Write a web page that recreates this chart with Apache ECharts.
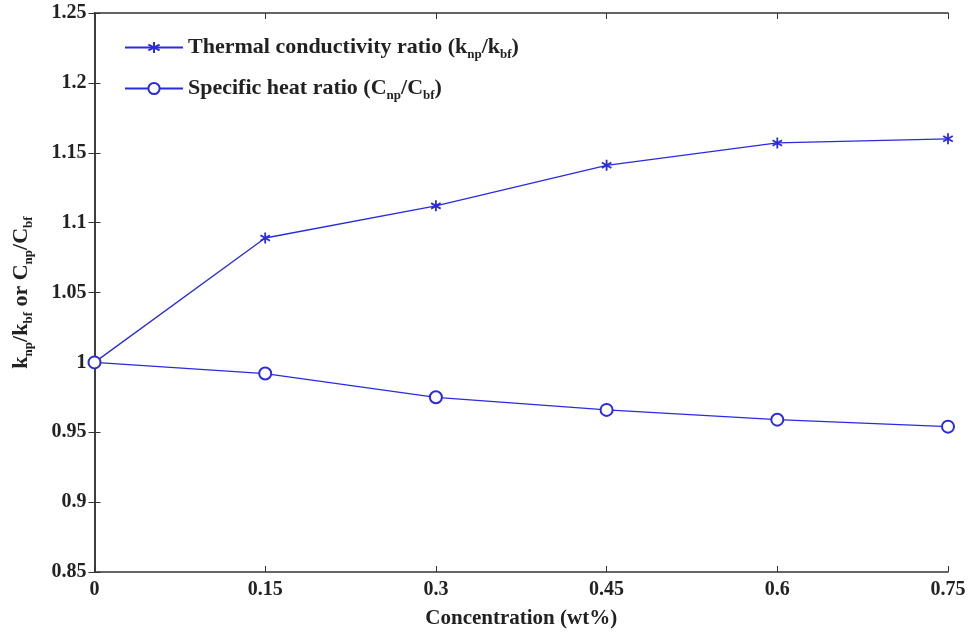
<!DOCTYPE html>
<html>
<head>
<meta charset="utf-8">
<script src="https://cdn.jsdelivr.net/npm/echarts@6/dist/echarts.min.js"></script>
<style>
html,body{margin:0;padding:0;background:#fff;}
#chart{width:970px;height:634px;}
</style>
</head>
<body>
<div id="chart"></div>
<script>
// concentration (wt%)
var concentration = [0, 0.15, 0.3, 0.45, 0.6, 0.75];
// k_np / k_bf
var thermalRatio = [1.000, 1.089, 1.112, 1.141, 1.157, 1.160];
// C_np / C_bf
var heatRatio = [1.000, 0.992, 0.975, 0.966, 0.959, 0.954];

var blue = '#2a2ae0';
var font = 'Liberation Serif';
var star = 'path://M0,-10 L0,10 M-8.66,-5 L8.66,5 M-8.66,5 L8.66,-5';

function pairs(xs, ys){
    return xs.map(function(x, i){ return [x, ys[i]]; });
}

// 上下标用的富文本样式
var rich = {
    b: {fontFamily: font, fontWeight: 'bold', fontSize: 22, color: '#222', lineHeight: 30},
    s: {fontFamily: font, fontWeight: 'bold', fontSize: 13, color: '#222', lineHeight: 30, padding: [14, 0, 0, 0]}
};
var tickFont = {fontFamily: font, fontWeight: 'bold', fontSize: 20, color: '#222'};
var axisLine = {show: true, lineStyle: {color: '#333', width: 1.5}};
var axisTick = {show: true, inside: true, length: 6, lineStyle: {color: '#333'}};

var chart = echarts.init(document.getElementById('chart'));
chart.setOption({
    animation: false,
    grid: {left: 94, right: 22, top: 13, bottom: 61},
    legend: {
        left: 119, top: 29, orient: 'vertical', itemGap: 14,
        itemWidth: 58, itemHeight: 14,
        data: ['thermal', 'heat'],
        formatter: function(name){
            if(name === 'thermal'){
                return '{b|Thermal conductivity ratio (k}{s|np}{b|/k}{s|bf}{b|)}';
            }
            return '{b|Specific heat ratio (C}{s|np}{b|/C}{s|bf}{b|)}';
        },
        textStyle: {rich: rich}
    },
    xAxis: [{
        type: 'value', min: 0, max: 0.75, interval: 0.15,
        name: 'Concentration (wt%)', nameLocation: 'middle', nameGap: 36,
        nameTextStyle: {fontFamily: font, fontWeight: 'bold', fontSize: 21, color: '#222'},
        axisLine: axisLine, axisTick: axisTick,
        axisLabel: Object.assign({margin: 8}, tickFont),
        splitLine: {show: false}
    }, {
        type: 'value', min: 0, max: 0.75, interval: 0.15, position: 'top',
        axisLine: axisLine, axisTick: axisTick,
        axisLabel: {show: false}, splitLine: {show: false}
    }],
    yAxis: [{
        type: 'value', min: 0.85, max: 1.25, interval: 0.05,
        name: '{b|k}{s|np}{b|/k}{s|bf}{b| or C}{s|np}{b|/C}{s|bf}',
        nameLocation: 'middle', nameGap: 58,
        nameTextStyle: {rich: rich},
        axisLine: axisLine, axisTick: axisTick,
        axisLabel: Object.assign({margin: 8}, tickFont),
        splitLine: {show: false}
    }, {
        type: 'value', min: 0.85, max: 1.25, interval: 0.05, position: 'right',
        axisLine: axisLine, axisTick: axisTick,
        axisLabel: {show: false}, splitLine: {show: false}
    }],
    series: [{
        name: 'thermal', type: 'line',
        data: pairs(concentration, thermalRatio),
        symbol: star, symbolSize: 11, symbolKeepAspect: true,
        lineStyle: {color: blue, width: 1.3},
        itemStyle: {color: blue, borderColor: blue, borderWidth: 1.8}
    }, {
        name: 'heat', type: 'line',
        data: pairs(concentration, heatRatio),
        symbol: 'emptyCircle', symbolSize: 12,
        lineStyle: {color: blue, width: 1.3},
        itemStyle: {color: blue, borderColor: blue, borderWidth: 1.3}
    }]
});
</script>
</body>
</html>
